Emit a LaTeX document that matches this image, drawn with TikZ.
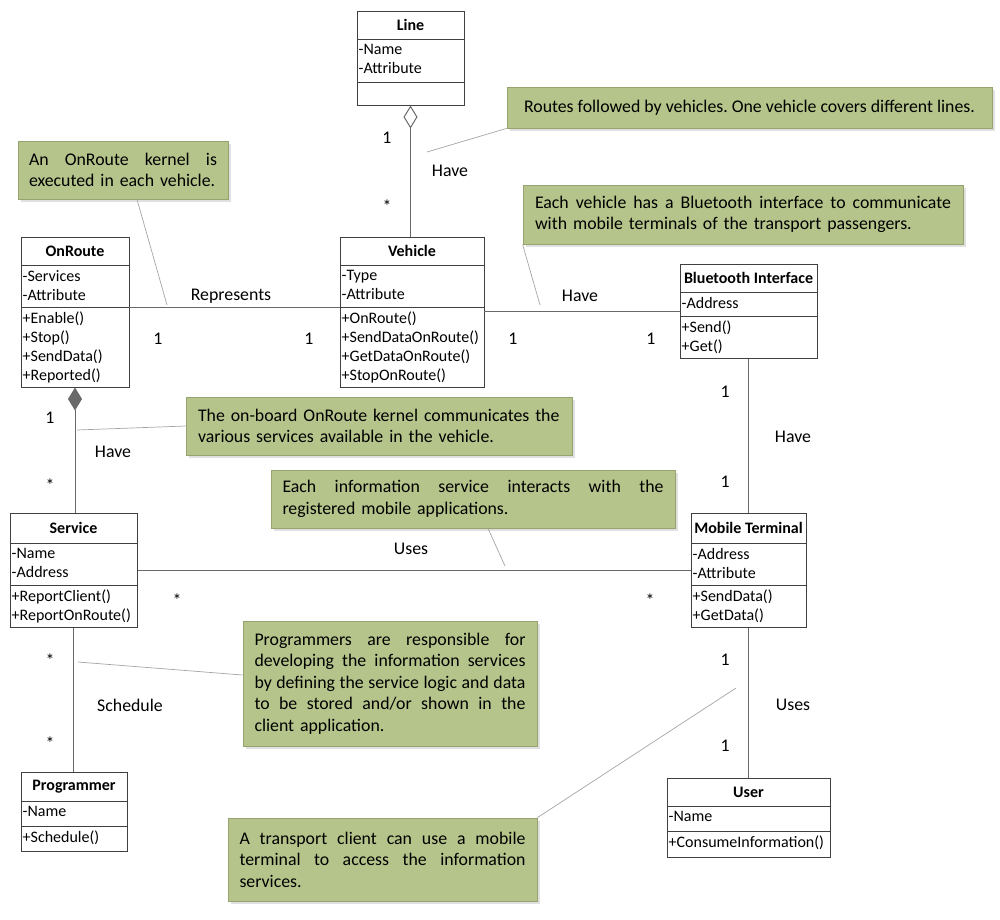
\documentclass[tikz,border=0pt]{standalone}
\usepackage{fontspec}
\setmainfont{Carlito}
\frenchspacing
\usetikzlibrary{arrows.meta,fit,shadows}
\definecolor{notefill}{RGB}{181,196,138}
\definecolor{notedraw}{RGB}{150,163,112}
\definecolor{clsline}{RGB}{64,64,64}
\definecolor{conn}{RGB}{105,105,105}
\definecolor{leadc}{RGB}{165,165,165}
\newcommand\jline[2]{\leavevmode\hbox to #1{\spaceskip=\fontdimen2\font plus 1fil\relax\xspaceskip=\spaceskip #2}}
\newcommand\umlclass[9]{%
  \coordinate (#1-nw) at (#2,#3);
  \coordinate (#1-se) at (#4,#5);
  \node[classbox, fit=(#1-nw)(#1-se)] (#1) {};
  \draw[clsline, line width=1pt] (#2,#6) -- (#4,#6);
  \draw[clsline, line width=1pt] (#2,#7) -- (#4,#7);
  \coordinate (#1-ml) at (#2,#7);
  \coordinate (#1-mr) at (#4,#7);
  \node[clstitle] at ({(#2+#4)/2},{(#3+#6)/2}) {#8};
  \node[clstext] at (#2,#6) {#9};
}
\newcommand\umlmethods[2]{\node[clstext] at (#1-ml) {#2};}
\begin{document}
\begin{tikzpicture}[x=1pt,y=-1pt,
  every node/.style={font=\fontsize{17.8}{21.5}\selectfont},
  classbox/.style={draw=clsline, line width=1pt, inner sep=0pt, fill=white},
  clstitle/.style={font=\fontsize{16}{19}\selectfont\bfseries, inner sep=0pt},
  clstext/.style={anchor=north west, align=left, inner xsep=1.5pt, inner ysep=5pt,
    font=\fontsize{16}{19}\selectfont},
  conn/.style={draw=conn, line width=0.9pt},
  leader/.style={draw=leadc, line width=0.7pt},
  tw/.style={text width=#1, align=left},
  note/.style={draw=notedraw, fill=notefill, line width=0.8pt, inner sep=0pt,
    drop shadow={shadow xshift=3pt, shadow yshift=-3pt, fill=black!20, opacity=0.6},
    font=\fontsize{17.8}{21.5}\selectfont},
  lbl/.style={inner sep=1pt}]
\useasboundingbox (0,0) rectangle (1000,919);

% classes
\umlclass{line}{357}{11}{464}{105}{39}{82}{Line}{-Name\\-Attribute}
\umlclass{onroute}{21}{237}{129}{387}{265}{307}{OnRoute}{-Services\\-Attribute}
\umlmethods{onroute}{+Enable()\\+Stop()\\+SendData()\\+Reported()}
\umlclass{vehicle}{340}{237}{484}{387}{265}{307}{Vehicle}{-Type\\-Attribute}
\umlmethods{vehicle}{+OnRoute()\\+SendDataOnRoute()\\+GetDataOnRoute()\\+StopOnRoute()}
\umlclass{bt}{680}{264}{817}{358}{292}{316}{Bluetooth Interface}{-Address}
\umlmethods{bt}{+Send()\\+Get()}
\umlclass{mt}{691}{513}{806}{627}{543}{585}{Mobile Terminal}{-Address\\-Attribute}
\umlmethods{mt}{+SendData()\\+GetData()}
\umlclass{service}{10}{513}{137}{627}{543}{585}{Service}{-Name\\-Address}
\umlmethods{service}{+ReportClient()\\+ReportOnRoute()}
\umlclass{programmer}{21}{772}{127}{851}{801}{826}{Programmer}{-Name}
\umlmethods{programmer}{+Schedule()}
\umlclass{user}{667}{778}{830}{857}{806}{831}{User}{-Name}
\umlmethods{user}{+ConsumeInformation()}

% connectors
\draw[conn, {Diamond[open, length=23pt, width=14pt, line width=1pt]}-] (line.south) -- (line.south |- vehicle.north);
\draw[conn] (onroute-mr) -- (vehicle-ml);
\draw[conn] ([yshift=-4pt]vehicle-mr) -- ([yshift=-4pt]vehicle-mr -| bt.west);
\draw[conn] (bt.south) -- (bt.south |- mt.north);
\draw[conn] (mt.south) -- (mt.south |- user.north);
\draw[conn, {Diamond[length=23pt, width=14pt]}-] (onroute.south) -- (onroute.south |- service.north);
\draw[conn] (service.east) -- (service.east -| mt.west);
\draw[conn] (service.south) -- (service.south |- programmer.north);

% labels
\node[lbl] at (387,138) {1};
\node[lbl] at (387,206) {*};
\node[lbl] at (450,171) {Have};
\node[lbl] at (231,296) {Represents};
\node[lbl] at (158,339) {1};
\node[lbl] at (309,339) {1};
\node[lbl] at (580,296) {Have};
\node[lbl] at (513,339) {1};
\node[lbl] at (651,339) {1};
\node[lbl] at (725,392) {1};
\node[lbl] at (793,437) {Have};
\node[lbl] at (725,482) {1};
\node[lbl] at (725,660) {1};
\node[lbl] at (793,705) {Uses};
\node[lbl] at (725,746) {1};
\node[lbl] at (50,418) {1};
\node[lbl] at (113,452) {Have};
\node[lbl] at (50,485) {*};
\node[lbl] at (411,549) {Uses};
\node[lbl] at (177,600) {*};
\node[lbl] at (650,600) {*};
\node[lbl] at (50,660) {*};
\node[lbl] at (130,705) {Schedule};
\node[lbl] at (50,743) {*};

% notes
\node[note, minimum width=210pt, minimum height=58pt, tw=188pt] (n-onroute) at (123,170)
  {\jline{188pt}{An OnRoute kernel is}\\executed in each vehicle.};
\node[note, minimum width=485pt, minimum height=41pt] (n-routes) at (749.5,107.5)
  {Routes followed by vehicles. One vehicle covers different lines.};
\node[note, minimum width=440pt, minimum height=59pt, tw=416pt] (n-bt) at (743,214.5)
  {\jline{416pt}{Each vehicle has a Bluetooth interface to communicate}\\with mobile terminals of the transport passengers.};
\node[note, minimum width=386pt, minimum height=58pt, tw=362pt] (n-kernel) at (379,426)
  {The on-board OnRoute kernel communicates the\\various services available in the vehicle.};
\node[note, minimum width=404pt, minimum height=58pt, tw=381pt] (n-info) at (473,499)
  {\jline{381pt}{Each information service interacts with the}\\registered mobile applications.};
\node[note, minimum width=294pt, minimum height=125pt, tw=271pt] (n-prog) at (390,683.5)
  {\jline{271pt}{Programmers are responsible for}\\\jline{271pt}{developing the information services}\\\jline{271pt}{by defining the service logic and data}\\\jline{271pt}{to be stored and/or shown in the}\\client application.};
\node[note, minimum width=309pt, minimum height=83pt, tw=286pt] (n-client) at (382.5,859.5)
  {\jline{286pt}{A transport client can use a mobile}\\\jline{286pt}{terminal to access the information}\\services.};

% leaders
\coordinate (l-onroute) at (167,305);
\coordinate (l-routes) at (427,152);
\coordinate (l-bt) at (540,305);
\coordinate (l-kernel) at (77,430);
\coordinate (l-info) at (505,566);
\coordinate (l-prog) at (78,662);
\coordinate (l-client) at (736,688);
\draw[leader] (l-onroute) -- ([xshift=14pt]n-onroute.south);
\draw[leader] (l-routes) -- (n-routes.south west);
\draw[leader] (l-bt) -- (n-bt.south west);
\draw[leader] (l-kernel) -- (n-kernel.west);
\draw[leader] (l-info) -- ([xshift=15pt]n-info.south);
\draw[leader] (l-prog) -- ([yshift=8.5pt]n-prog.west);
\draw[leader] (l-client) -- (n-client.north east);
\end{tikzpicture}
\end{document}
